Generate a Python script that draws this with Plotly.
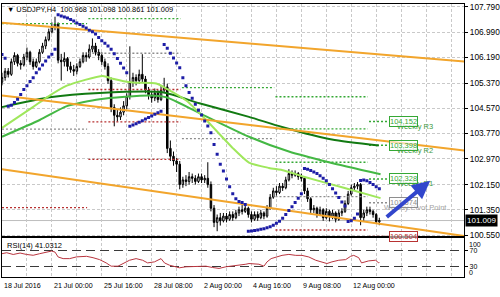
import plotly.graph_objects as go

# ---------------- data ----------------
opens = [105.40, 105.55, 105.75, 105.65, 106.05, 106.25, 106.00, 105.95, 106.20, 106.35,
 106.05, 105.90, 106.05, 106.35, 106.55, 106.75, 107.00, 107.15, 107.25, 106.10,
 106.05, 106.15, 105.90, 105.80, 105.75, 105.90, 106.05, 106.25, 106.20, 106.45,
 106.55, 106.35, 106.25, 106.05, 105.90, 105.45, 104.60, 104.35, 104.30, 104.45,
 104.65, 104.95, 105.40, 105.55, 105.45, 105.65, 105.50, 105.15, 105.00, 104.90,
 105.05, 104.85, 105.15, 105.25, 103.30, 103.05, 102.90, 102.80, 102.15, 102.30,
 102.25, 102.40, 102.35, 102.25, 102.40, 102.30, 102.35, 102.15, 101.40, 100.95,
 101.10, 101.00, 101.15, 101.05, 101.20, 101.10, 101.25, 101.35, 101.30, 101.40,
 101.20, 101.05, 101.20, 101.10, 101.25, 101.15, 101.40, 101.75, 101.95, 101.90,
 102.10, 102.05, 102.30, 102.50, 102.45, 102.50, 102.40, 102.35, 101.95, 101.70,
 101.35, 101.40, 101.20, 101.35, 101.10, 101.30, 101.15, 101.25, 101.05, 101.25,
 101.30, 101.55, 101.85, 102.05, 102.10, 102.15, 101.10, 101.25, 101.35, 101.30,
 101.20, 100.968]
highs = [105.70, 105.85, 105.85, 106.15, 106.35, 106.30, 106.10, 106.30, 106.50, 106.40,
 106.15, 106.15, 106.45, 106.65, 106.85, 107.10, 107.30, 107.48, 107.30, 106.30,
 106.35, 106.20, 106.05, 105.95, 106.00, 106.15, 106.35, 106.35, 106.60, 106.79,
 106.65, 106.45, 106.35, 106.15, 106.00, 105.55, 104.70, 104.55, 104.60, 104.80,
 105.05, 106.54, 105.70, 105.65, 105.80, 106.29, 105.60, 105.25, 105.10, 105.20,
 105.15, 105.30, 105.54, 105.35, 103.55, 103.20, 103.00, 102.90, 102.40, 102.45,
 102.55, 102.50, 102.45, 102.50, 102.50, 102.45, 102.86, 102.25, 101.50, 101.20,
 101.25, 101.25, 101.25, 101.30, 101.30, 101.35, 101.45, 101.50, 101.50, 101.45,
 101.30, 101.30, 101.30, 101.35, 101.30, 101.50, 101.85, 102.05, 102.10, 102.20,
 102.20, 102.40, 102.64, 102.60, 102.60, 102.55, 102.50, 102.40, 102.05, 101.75,
 101.50, 101.45, 101.45, 101.40, 101.40, 101.35, 101.35, 101.30, 101.35, 101.40,
 101.65, 101.95, 102.15, 102.20, 102.23, 102.20, 101.35, 101.45, 101.45, 101.35,
 101.25, 101.098]
lows = [105.30, 105.45, 105.55, 105.60, 105.95, 105.90, 105.80, 105.90, 106.10, 105.95,
 105.80, 105.85, 106.00, 106.30, 106.45, 106.70, 106.95, 107.05, 106.00, 105.45,
 105.90, 105.75, 105.70, 105.60, 105.65, 105.85, 106.00, 106.05, 106.15, 106.35,
 106.25, 106.10, 105.95, 105.80, 105.35, 104.45, 104.00, 104.15, 104.20, 104.35,
 104.55, 104.85, 105.25, 105.30, 105.35, 105.40, 105.05, 104.85, 104.75, 104.80,
 104.75, 104.80, 105.05, 103.15, 102.90, 102.75, 102.55, 102.00, 102.05, 102.10,
 102.15, 102.20, 102.15, 102.20, 102.20, 102.20, 102.05, 101.30, 100.80, 100.67,
 100.85, 100.95, 100.95, 101.00, 101.00, 101.05, 101.15, 101.20, 101.25, 101.10,
 100.95, 101.00, 101.00, 101.05, 101.05, 101.10, 101.35, 101.70, 101.80, 101.85,
 101.95, 102.00, 102.25, 102.35, 102.40, 102.30, 102.25, 101.85, 101.60, 101.25,
 101.25, 101.10, 101.15, 101.00, 101.05, 100.98, 101.05, 100.95, 101.00, 101.15,
 101.25, 101.50, 101.80, 101.95, 102.00, 100.86, 101.00, 101.15, 101.20, 101.10,
 100.90, 100.861]
closes = [105.55, 105.75, 105.65, 106.05, 106.25, 106.00, 105.95, 106.20, 106.35, 106.05,
 105.90, 106.05, 106.35, 106.55, 106.75, 107.00, 107.15, 107.25, 106.10, 106.05,
 106.15, 105.90, 105.80, 105.75, 105.90, 106.05, 106.25, 106.20, 106.45, 106.55,
 106.35, 106.25, 106.05, 105.90, 105.45, 104.60, 104.35, 104.30, 104.45, 104.65,
 104.95, 105.40, 105.55, 105.45, 105.65, 105.50, 105.15, 105.00, 104.90, 105.05,
 104.85, 105.15, 105.25, 103.30, 103.05, 102.90, 102.80, 102.15, 102.30, 102.25,
 102.40, 102.35, 102.25, 102.40, 102.30, 102.35, 102.15, 101.40, 100.95, 101.10,
 101.00, 101.15, 101.05, 101.20, 101.10, 101.25, 101.35, 101.30, 101.40, 101.20,
 101.05, 101.20, 101.10, 101.25, 101.15, 101.40, 101.75, 101.95, 101.90, 102.10,
 102.05, 102.30, 102.50, 102.45, 102.50, 102.40, 102.35, 101.95, 101.70, 101.35,
 101.40, 101.20, 101.35, 101.10, 101.30, 101.15, 101.25, 101.05, 101.25, 101.30,
 101.55, 101.85, 102.05, 102.10, 102.15, 101.10, 101.25, 101.35, 101.30, 101.20,
 100.97, 101.009]
sar = [106.28, 106.16, 104.64, 104.67, 104.76, 104.86, 105.01, 105.17, 105.29, 105.42,
 105.54, 105.70, 105.82, 105.95, 106.07, 106.20, 106.29, 106.45, 107.54, 107.50,
 107.47, 107.44, 107.39, 107.34, 107.28, 107.23, 107.18, 107.12, 107.05, 107.00,
 106.93, 106.82, 106.72, 106.64, 106.55, 106.45, 106.30, 106.15, 106.00, 105.85,
 105.70, 104.00, 104.04, 104.08, 104.13, 104.18, 104.23, 104.28, 104.33, 104.38,
 104.43, 104.48, 106.60, 106.48, 106.32, 106.17, 106.01, 105.86, 105.54, 105.29,
 105.07, 104.89, 104.70, 104.51, 104.36, 104.17, 104.01, 103.80, 103.42, 103.11,
 102.80, 102.58, 102.33, 102.08, 101.86, 101.70, 101.61, 101.58, 101.52, 100.67,
 100.68, 100.69, 100.71, 100.73, 100.75, 100.78, 100.81, 100.86, 100.92, 100.99,
 101.08, 101.20, 101.33, 101.45, 101.58, 101.72, 101.86, 102.66, 102.64, 102.60,
 102.55, 102.50, 102.43, 102.35, 102.27, 102.15, 102.02, 101.88, 101.74, 101.60,
 101.47, 100.98, 101.00, 101.08, 101.22, 102.28, 102.30, 102.27, 102.22, 102.15,
 102.08, 102.02]
bars = list(range(len(closes)))

# moving averages (vertices)
ma_fast_x = [0, 9.9, 14.4, 20.8, 32.3, 35.5, 41.9, 49.5, 52.7, 59.1, 65.5, 73.8, 79.2, 85.6, 90.4, 96.8, 109.6, 121.4]
ma_fast_v = [103.95, 104.61, 104.92, 105.29, 105.60, 105.51, 105.39, 105.36, 105.20, 104.82, 104.20, 103.33,
             102.85, 102.68, 102.60, 102.40, 102.05, 101.72]
ma_mid_x = [0, 12.1, 20.8, 31.3, 47.3, 52.7, 63.3, 79.2, 92, 104.8, 121.4]
ma_mid_v = [103.67, 104.20, 104.64, 104.86, 104.98, 104.92, 104.42, 103.67, 103.20, 102.86, 102.48]
ma_slow_x = [0, 15.3, 31.3, 51.4, 63.3, 79.2, 89.8, 105.8, 120.8]
ma_slow_v = [104.61, 104.92, 105.06, 105.08, 104.73, 104.30, 103.98, 103.58, 103.39]

# channel trend lines (end points)
chan_x = [0, 148.2]
chan_top = [107.29, 106.06]
chan_mid = [104.98, 103.23]
chan_bot = [102.64, 100.52]

# weekly pivot levels per week: (start bar, end bar, [(price, kind), ...])
pivot_weeks = [
    (0, 27.3, [(107.26, "R"), (103.91, "P"), (101.42, "S")]),
    (27.7, 57.3, [(107.42, "R"), (106.32, "P"), (105.17, "S"), (104.14, "S"), (102.95, "S")]),
    (57.7, 87.3, [(105.23, "R"), (103.61, "P")]),
    (87.7, 117.3, [(104.94, "R"), (103.92, "R"), (102.86, "R"), (101.77, "P"), (100.71, "S")]),
]
cur_week = (117.7, 124.0)
cur_levels = [104.152, 103.398, 102.328, 101.574, 100.504]
cur_kinds = ["R", "R", "R", "P", "S"]
cur_names = ["Weekly R3", "Weekly R2", "Weekly R1", "Weekly Pivot Point", ""]

# RSI(14) vertices
rsi_x = [0, 1.5, 3.6, 5.8, 7.9, 10, 12.1, 14.3, 15.9, 17, 18, 19.6, 21.7, 23.9, 27.1, 29.2, 31.3, 33.4,
         35, 37.2, 38.8, 40.9, 43, 45.1, 46.7, 48.9, 51, 52.1, 53.7, 55.3, 56.9, 59, 61.1, 63.3, 65.4,
         67.5, 69.6, 71.8, 73.9, 76, 78.2, 79.2, 82.4, 84, 85, 86.3, 87.9, 89.8, 92, 94.2, 96.2, 98.4,
         100.6, 102.6, 104.2, 105.8, 108, 110.2, 111.8, 112.8, 114.4, 115.3, 117.6, 119.8, 120.8, 121]
rsi_v = [62, 64.4, 60, 63.6, 60, 58, 62, 66, 68.5, 66, 53.8, 49.7, 49.7, 54, 55.4, 52, 47.2, 39,
         30.8, 30.8, 37.4, 45.6, 49.7, 45.6, 39, 41.6, 49.7, 39, 33.3, 29.3, 26.8, 29.3, 29.3, 30.8, 30.8,
         27.6, 25.2, 29.3, 30.8, 32.5, 35.7, 37.4, 35.7, 30.8, 41.6, 49.7, 53.8, 57.8, 60.2, 57.8, 57.8, 53.8,
         45.6, 41.6, 37.4, 41.6, 45.6, 47.2, 55.4, 57.8, 52, 39, 44, 45.6, 39, 41.03]
rsi_levels = [30, 70]

price_ticks = [107.79, 106.99, 106.19, 105.37, 104.57, 103.77, 102.97, 102.15, 101.35, 100.55]
price_labels = ["107.790", "106.990", "106.190", "105.370", "104.570", "103.770", "102.970",
                "102.150", "101.350", "100.550"]
time_pos = [0, 16, 32, 48, 64, 80, 96, 112]
time_labels = ["18 Jul 2016", "21 Jul 00:00", "25 Jul 16:00", "28 Jul 08:00", "2 Aug 00:00",
               "4 Aug 16:00", "9 Aug 08:00", "12 Aug 00:00"]
last_price = 101.009
title_text = "\u25bc USDJPY,H4  100.968 101.098 100.861 101.009"
rsi_text = "RSI(14) 41.0312"
arrow_tail = (122.9, 101.08)
arrow_tip = (137.3, 102.27)

# ---------------- styling ----------------
FONT = "Liberation Sans, Arial, sans-serif"
KIND_COL = {"R": "#35a835", "P": "#8e8e8e", "S": "#b83232"}
TXT_COL = {"R": "#3d9a3d", "P": "#a2a2a2", "S": "#b83232"}
GRID = "#c9c9c9"

fig = go.Figure()

# pivot dotted segments
for (x0, x1, lv) in pivot_weeks:
    for (p, k) in lv:
        fig.add_trace(go.Scatter(x=[x0, x1], y=[p, p], mode="lines", xaxis="x", yaxis="y",
                                 line=dict(color=KIND_COL[k], width=1.4, dash="2px,2px"),
                                 hoverinfo="skip", showlegend=False))
for p, k in zip(cur_levels, cur_kinds):
    fig.add_trace(go.Scatter(x=list(cur_week), y=[p, p], mode="lines", xaxis="x", yaxis="y",
                             line=dict(color=KIND_COL[k], width=1.4, dash="2px,2px"),
                             hoverinfo="skip", showlegend=False))

# candles
fig.add_trace(go.Candlestick(
    x=bars, open=opens, high=highs, low=lows, close=closes, xaxis="x", yaxis="y",
    increasing=dict(line=dict(color="black", width=1), fillcolor="white"),
    decreasing=dict(line=dict(color="black", width=1), fillcolor="black"),
    whiskerwidth=0, showlegend=False, hoverinfo="skip"))

# moving averages
for xs, vs, col in [(ma_slow_x, ma_slow_v, "#127a12"), (ma_mid_x, ma_mid_v, "#44b844"),
                    (ma_fast_x, ma_fast_v, "#9fe75c")]:
    fig.add_trace(go.Scatter(x=xs, y=vs, mode="lines", xaxis="x", yaxis="y",
                             line=dict(color=col, width=2, shape="spline", smoothing=0.6),
                             hoverinfo="skip", showlegend=False))

# channel lines
for ys in (chan_top, chan_mid, chan_bot):
    fig.add_trace(go.Scatter(x=chan_x, y=ys, mode="lines", xaxis="x", yaxis="y",
                             line=dict(color="#f2a52c", width=2), hoverinfo="skip", showlegend=False))

# parabolic SAR
fig.add_trace(go.Scatter(x=bars, y=sar, mode="markers", xaxis="x", yaxis="y",
                         marker=dict(color="#1d1da6", size=3, symbol="square"),
                         hoverinfo="skip", showlegend=False))

# RSI
fig.add_trace(go.Scatter(x=rsi_x, y=rsi_v, mode="lines", xaxis="x2", yaxis="y2",
                         line=dict(color="#b8343e", width=1), hoverinfo="skip", showlegend=False))

# ---------------- layout ----------------
grid_vals = list(range(0, 149, 8))
xcommon = dict(range=[0, 148.2], domain=[0.004, 0.932], tickvals=grid_vals, showticklabels=False,
               ticks="", showgrid=True, gridcolor=GRID, griddash="3px,2px", gridwidth=1,
               zeroline=False, showline=True, linecolor="black", linewidth=1, mirror=True)

fig.update_layout(
    width=500, height=297, margin=dict(l=0, r=0, t=0, b=0),
    paper_bgcolor="white", plot_bgcolor="white",
    font=dict(family=FONT, size=8, color="black"),
    xaxis=dict(anchor="y", rangeslider=dict(visible=False), **xcommon),
    xaxis2=dict(anchor="y2", matches="x", **xcommon),
    yaxis=dict(domain=[0.19697, 0.99327], range=[100.503, 107.884], side="right", anchor="x",
               tickvals=price_ticks, ticktext=price_labels, ticks="outside", ticklen=3,
               tickcolor="black", tickfont=dict(size=8.3, family=FONT), ticklabeloverflow="allow",
               showgrid=True, gridcolor=GRID, griddash="3px,2px", zeroline=False,
               showline=True, linecolor="black", linewidth=1, mirror=True),
    yaxis2=dict(domain=[0.05724, 0.19024], range=[3.1, 100], side="right", anchor="x2",
                tickvals=rsi_levels, ticktext=[str(v) for v in rsi_levels], ticks="outside",
                ticklen=3, tickcolor="black", tickfont=dict(size=7, family=FONT),
                ticklabeloverflow="allow",
                showgrid=True, gridcolor="#3a3a3a", griddash="9px,5px", zeroline=False,
                showline=True, linecolor="black", linewidth=1, mirror=True),
    showlegend=False,
)

# bid line
fig.add_shape(type="line", xref="x domain", yref="y", x0=0, x1=1, y0=last_price, y1=last_price,
              line=dict(color="#bdbdbd", width=1), layer="below")

ann = []
ann.append(dict(xref="paper", yref="paper", x=0.01, y=1 - 8 / 297, text=title_text, showarrow=False,
                xanchor="left", yanchor="middle", font=dict(size=7.4, color="black", family=FONT)))
ann.append(dict(xref="paper", yref="paper", x=0.01, y=1 - 247.5 / 297, text=rsi_text, showarrow=False,
                xanchor="left", yanchor="middle", font=dict(size=7.5, color="black", family=FONT)))
for txt, py in [("100", 246.3), ("0", 275.6)]:
    ann.append(dict(xref="paper", yref="paper", x=0.938, y=1 - py / 297, text=txt, showarrow=False,
                    xanchor="left", yanchor="middle", font=dict(size=7, color="black", family=FONT)))
for pos, lab in zip(time_pos, time_labels):
    ann.append(dict(xref="x", yref="paper", x=pos, y=1 - 289 / 297, text=lab, showarrow=False,
                    xanchor="left", yanchor="middle", xshift=0,
                    font=dict(size=7.1, color="black", family=FONT)))
# current price box
ann.append(dict(xref="paper", yref="y", x=0.934, y=last_price, text="%.3f" % last_price,
                showarrow=False, xanchor="left", yanchor="middle", bgcolor="black",
                font=dict(size=8, color="white", family=FONT), borderpad=1))
# weekly level boxes and names
for p, k, nm in zip(cur_levels, cur_kinds, cur_names):
    if nm:
        ann.append(dict(xref="x", yref="y", x=132.6, y=p, yshift=-5, text=nm, showarrow=False,
                        xanchor="center", yanchor="middle",
                        font=dict(size=7.5, color=TXT_COL[k], family=FONT)))
    ann.append(dict(xref="x", yref="y", x=cur_week[1], y=p, text="%.3f" % p, showarrow=False,
                    xanchor="left", yanchor="middle", bgcolor="rgba(255,255,255,0.6)",
                    bordercolor=KIND_COL[k], borderwidth=1, borderpad=0,
                    font=dict(size=7.5, color=KIND_COL[k], family=FONT)))
# blue arrow
ann.append(dict(xref="x", yref="y", x=arrow_tip[0], y=arrow_tip[1], axref="x", ayref="y",
                ax=arrow_tail[0], ay=arrow_tail[1], text="", showarrow=True, arrowhead=2,
                arrowsize=0.9, arrowwidth=4, arrowcolor="#3246cc", standoff=0))
fig.update_layout(annotations=ann)

fig.write_html("out.html")
